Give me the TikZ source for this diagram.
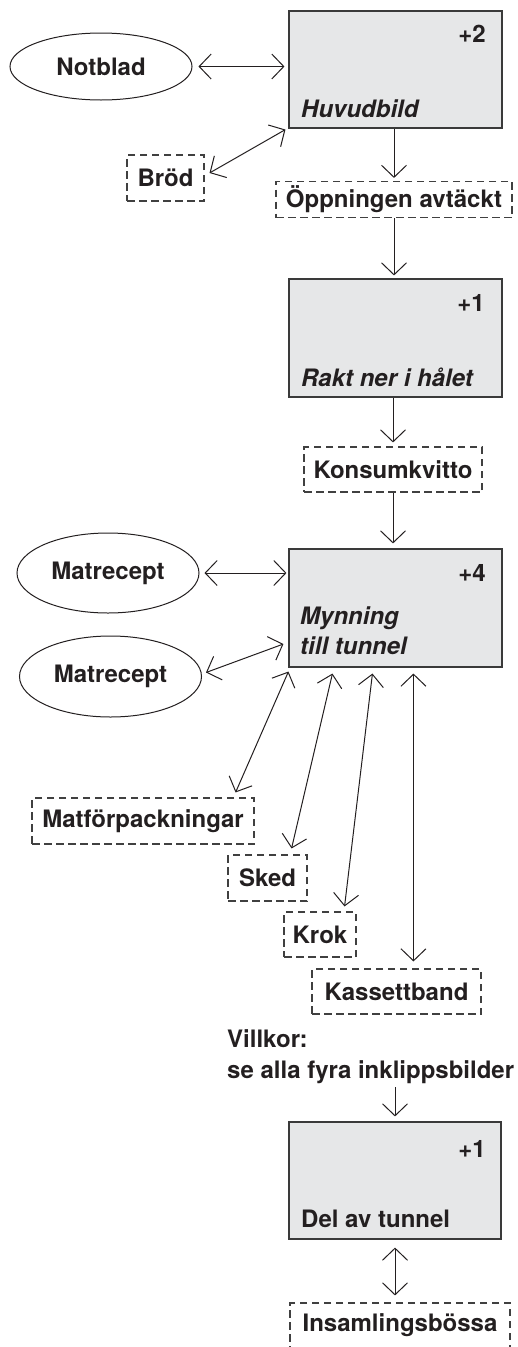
\documentclass[tikz,border=0pt]{standalone}
\usepackage{fontspec}
\setmainfont{TeX Gyre Heros}
\usetikzlibrary{arrows.meta,shapes.geometric,calc}
\definecolor{ink}{HTML}{231F20}
\definecolor{boxfill}{HTML}{E6E7E8}
\definecolor{boxline}{HTML}{3A3A3A}
\definecolor{dashline}{HTML}{404040}
\tikzset{
  every node/.style={font=\fontsize{24}{29}\selectfont\bfseries, text=ink, inner sep=0pt},
  card/.style={draw=boxline, fill=boxfill, line width=1.1pt, rectangle, minimum width=213pt, minimum height=117pt},
  tag/.style={draw=dashline, dash pattern=on 7.5pt off 4.5pt, line width=1.1pt, rectangle},
  oval/.style={draw=ink, ellipse, line width=1pt, minimum width=182pt},
  link/.style={draw=ink, line width=1pt, {Straight Barb[length=12pt,width=25pt]}-{Straight Barb[length=12pt,width=25pt]}},
  flow/.style={draw=ink, line width=1pt, -{Straight Barb[length=12pt,width=25pt]}},
}
\begin{document}
\begin{tikzpicture}[x=1pt,y=-1pt]
\useasboundingbox (0,0) rectangle (518,1347);
\clip (0,0) rectangle (518,1347);

% main cards
\node[card] (b1) at (395.5,69.5) {};
\node[anchor=base east] (b1n) at (486,42) {+2};
\node[anchor=base west] (b1t) at (301,117) {\itshape Huvudbild};

\node[card, minimum height=118pt] (b2) at (395.5,338) {};
\node[anchor=base east] (b2n) at (485,311) {+1};
\node[anchor=base west] (b2t) at (301,386) {\itshape Rakt ner i hålet};

\node[card, minimum height=118pt] (b3) at (395.5,608) {};
\node[anchor=base east] (b3n) at (486,581) {+4};
\node[anchor=base west] (b3t1) at (300,624) {\itshape Mynning};
\node[anchor=base west] (b3t2) at (300,654) {\itshape till tunnel};

\node[card, minimum width=212pt] (b4) at (395,1180.5) {};
\node[anchor=base east] (b4n) at (486,1157) {+1};
\node[anchor=base west] (b4t) at (301,1227) {Del av tunnel};

% ellipses
\node[oval, minimum height=67pt] (notblad) at (101,66.5) {Notblad};
\node[oval, minimum height=80pt] (mr1) at (108,573) {Matrecept};
\node[oval, minimum height=81pt] (mr2) at (110.5,676.5) {Matrecept};

% dashed tags
\node[tag, minimum width=77pt, minimum height=46pt] (brod) at (165.5,178) {Bröd};
\node[tag, minimum width=236pt, minimum height=36pt] (oppn) at (394,199.5) {Öppningen avtäckt};
\node[tag, minimum width=178pt, minimum height=45pt] (kons) at (393,469.5) {Konsumkvitto};
\node[tag, minimum width=222pt, minimum height=46pt] (matf) at (143,821) {Matförpackningar};
\node[tag, minimum width=79pt, minimum height=46pt] (sked) at (267.5,878) {Sked};
\node[tag, minimum width=72pt, minimum height=45pt] (krok) at (320,934.5) {Krok};
\node[tag, minimum width=169pt, minimum height=45pt] (kass) at (396.5,991.5) {Kassettband};
\node[tag, minimum width=220pt, minimum height=45pt] (insam) at (400,1325.5) {Insamlingsbössa};

% condition text
\node[anchor=base west] (cond1) at (227,1047) {Villkor:};
\node[anchor=base west] (cond2) at (227,1078) {se alla fyra inklippsbilder};

% connectors
\draw[link, shorten <=6pt, shorten >=4pt] (notblad.east) -- (b1.west |- notblad.east);
\draw[link] ($(brod.east)+(5,-5)$) -- ($(b1.south west)+(-3,1)$);
\draw[flow, shorten >=3pt] (b1.south -| oppn.north) -- (oppn.north);
\draw[flow, shorten >=3pt] (oppn.south) -- (oppn.south |- b2.north);
\draw[flow, shorten >=4pt] (b2.south -| kons.north) -- (kons.north);
\draw[flow, shorten >=5pt] (kons.south) -- (kons.south |- b3.north);

\draw[link, shorten <=5pt, shorten >=2pt] (mr1.east) -- (b3.west |- mr1.east);
\draw[link] ($(mr2.east)+(4,-4)$) -- ($(b3.west)+(-5,36)$);

\draw[link] ($(b3.south west)+(0,4)$) -- ($(matf.north east)+(-19,-5)$);
\draw[link] ($(b3.south west)+(44,6)$) -- ($(sked.north east)+(-16,-6)$);
\draw[link] ($(b3.south west)+(84,6)$) -- ($(krok.north east)+(-12,-5)$);
\draw[link] ($(b3.south west)+(125,6)$) -- ($(kass.north west)+(102,-7)$);

\coordinate (cA) at ($(cond2.base -| b4.north)+(0,9)$);
\draw[flow, shorten >=5pt] (cA) -- (b4.north);
\draw[link, shorten <=8pt, shorten >=7pt] (b4.south) -- (b4.south |- insam.north);
\end{tikzpicture}
\end{document}
